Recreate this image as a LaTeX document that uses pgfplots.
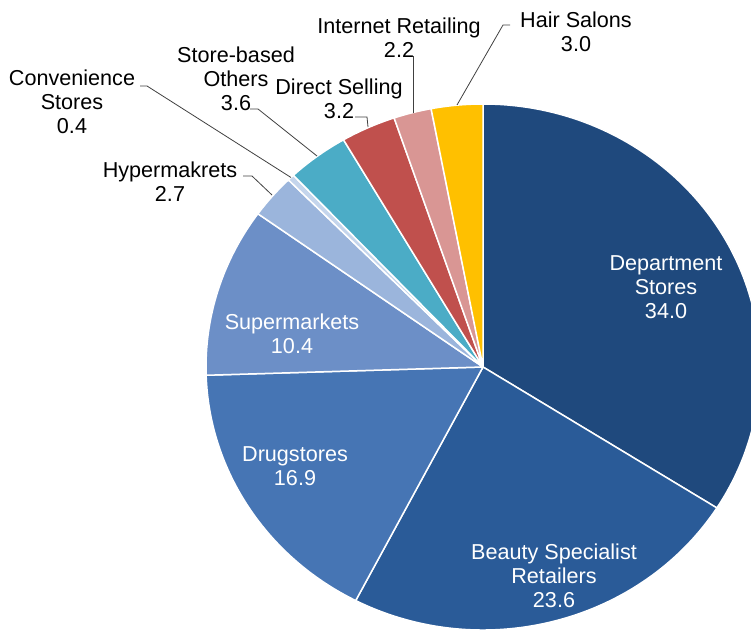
\documentclass[border=0pt]{standalone}
\usepackage{fontspec}
\setmainfont{Liberation Sans}
\usepackage{pgfplots}
\pgfplotsset{compat=1.18}
\usepackage{pgfplotstable}

\definecolor{cDept}{HTML}{1F497D}
\definecolor{cBeauty}{HTML}{2A5B98}
\definecolor{cDrug}{HTML}{4675B4}
\definecolor{cSuper}{HTML}{6C8FC7}
\definecolor{cHyper}{HTML}{9BB5DC}
\definecolor{cConv}{HTML}{C4D5EC}
\definecolor{cStore}{HTML}{4BACC6}
\definecolor{cDirect}{HTML}{C0504D}
\definecolor{cNet}{HTML}{D99694}
\definecolor{cHair}{HTML}{FFC000}
\definecolor{leader}{HTML}{404040}

\tikzset{lbl/.style={align=center, inner sep=0pt, font=\fontsize{21.6}{23.8}\selectfont}}

% channel share, clockwise from 12 o'clock
\pgfplotstableread{
share color
34.0 cDept
23.6 cBeauty
16.9 cDrug
10.4 cSuper
2.7 cHyper
0.4 cConv
3.6 cStore
3.2 cDirect
2.2 cNet
3.0 cHair
}\piedata

\begin{document}
\begin{tikzpicture}
\begin{axis}[
  name=ax,
  x=1pt, y=1pt,
  xmin=0, xmax=751, ymin=0, ymax=632,
  hide axis, clip=true,
]
\pgfplotsextra{
  \pgfplotstablegetrowsof{\piedata}
  \pgfmathtruncatemacro\nrows{\pgfplotsretval-1}
  \gdef\cum{0}
  \foreach \i in {0,...,\nrows}{
    \pgfplotstablegetelem{\i}{share}\of\piedata \let\v\pgfplotsretval
    \pgfplotstablegetelem{\i}{color}\of\piedata \let\slicecolor\pgfplotsretval
    \pgfmathsetmacro\a{90-3.6*\cum}
    \pgfmathsetmacro\b{90-3.6*(\cum+\v)}
    \fill[fill=\slicecolor, draw=white, line width=1.5pt, line join=round]
      (axis cs:483,265) -- ++(\a:277pt and 263pt)
      arc[start angle=\a, end angle=\b, x radius=277pt, y radius=263pt] -- cycle;
    \pgfmathsetmacro\newcum{\cum+\v}
    \xdef\cum{\newcum}
  }
}
% leader lines
\draw[leader, line width=0.8pt] (axis cs:140,546) -- (axis cs:147,546) -- (axis cs:291,454.5);
\draw[leader, line width=0.8pt] (axis cs:243,456) -- (axis cs:252,456) -- (axis cs:272,437);
\draw[leader, line width=0.8pt] (axis cs:250,523) -- (axis cs:258,523) -- (axis cs:317,476);
\draw[leader, line width=0.8pt] (axis cs:355,515) -- (axis cs:367,515) -- (axis cs:368,505);
\draw[leader, line width=0.8pt] (axis cs:413,576) -- (axis cs:413,519);
\draw[leader, line width=0.8pt] (axis cs:510,607) -- (axis cs:503,607) -- (axis cs:457,527);
% inside labels
\node[lbl, text=white] at (axis cs:666,345) {Department\\Stores\\34.0};
\node[lbl, text=white] at (axis cs:554,56) {Beauty Specialist\\Retailers\\23.6};
\node[lbl, text=white] at (axis cs:295,165.5) {Drugstores\\16.9};
\node[lbl, text=white] at (axis cs:292,298.5) {Supermarkets\\10.4};
% outside labels
\node[lbl, text=black] at (axis cs:170,450.5) {Hypermakrets\\2.7};
\node[lbl, text=black] at (axis cs:72,530) {Convenience\\Stores\\0.4};
\node[lbl, text=black] at (axis cs:236,553) {Store-based\\Others\\3.6};
\node[lbl, text=black] at (axis cs:339,533) {Direct Selling\\3.2};
\node[lbl, text=black] at (axis cs:399,594.5) {Internet Retailing\\2.2};
\node[lbl, text=black] at (axis cs:576,600) {Hair Salons\\3.0};
\end{axis}
\pgfresetboundingbox
\path (ax.south west) rectangle (ax.north east);
\end{tikzpicture}
\end{document}
